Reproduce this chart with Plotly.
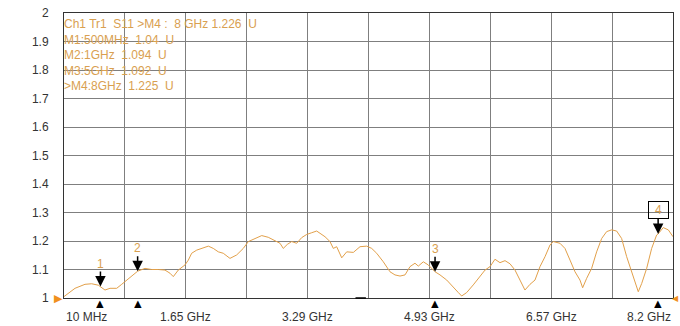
import plotly.graph_objects as go

# Trace data (frequency in MHz, SWR-like value in U)
freq_mhz = [10, 158, 292, 382, 471, 500, 561, 629, 719, 786, 853, 942, 1000, 1099, 1189,
            1278, 1368, 1435, 1480, 1547, 1637, 1682, 1727, 1795, 1862, 1951, 2018, 2085,
            2152, 2242, 2332, 2421, 2489, 2579, 2669, 2757, 2848, 2915, 2959, 3013, 3072,
            3139, 3207, 3274, 3341, 3408, 3453, 3520, 3587, 3632, 3677, 3745, 3812, 3901,
            3991, 4081, 4148, 4215, 4304, 4394, 4461, 4529, 4596, 4663, 4730, 4775, 4842,
            4909, 5000, 5067, 5157, 5246, 5313, 5358, 5425, 5514, 5604, 5672, 5739, 5806,
            5873, 5941, 6008, 6075, 6142, 6209, 6277, 6344, 6411, 6479, 6546, 6590, 6680,
            6747, 6815, 6882, 6949, 6985, 7039, 7106, 7173, 7241, 7308, 7375, 7442, 7509,
            7577, 7644, 7702, 7733, 7779, 7846, 7913, 7980, 8000, 8024, 8069, 8137, 8200]
values = [1.005, 1.034, 1.048, 1.050, 1.045, 1.040, 1.028, 1.034, 1.034, 1.048, 1.063, 1.081,
          1.094, 1.104, 1.100, 1.100, 1.098, 1.087, 1.075, 1.098, 1.116, 1.133, 1.157, 1.168,
          1.174, 1.182, 1.174, 1.162, 1.157, 1.139, 1.151, 1.174, 1.198, 1.209, 1.219, 1.213,
          1.200, 1.192, 1.174, 1.188, 1.198, 1.192, 1.212, 1.223, 1.229, 1.235, 1.227, 1.215,
          1.198, 1.174, 1.180, 1.141, 1.162, 1.160, 1.180, 1.182, 1.174, 1.157, 1.127, 1.092,
          1.081, 1.077, 1.081, 1.110, 1.122, 1.112, 1.127, 1.116, 1.092, 1.081, 1.063, 1.040,
          1.019, 1.007, 1.019, 1.046, 1.075, 1.098, 1.110, 1.136, 1.124, 1.131, 1.120, 1.098,
          1.063, 1.028, 1.048, 1.063, 1.110, 1.145, 1.186, 1.198, 1.192, 1.174, 1.133, 1.092,
          1.063, 1.036, 1.069, 1.104, 1.162, 1.209, 1.233, 1.239, 1.235, 1.209, 1.145, 1.092,
          1.040, 1.022, 1.051, 1.104, 1.174, 1.221, 1.225, 1.233, 1.247, 1.239, 1.215]

# Markers
marker_labels = ["1", "2", "3", "4"]
marker_freq = [500, 1000, 5000, 8000]
marker_vals = [1.04, 1.094, 1.092, 1.225]
active_marker = "4"

# Axis ticks
x_tick_vals = [10, 1648, 3286, 4924, 6562, 8200]
x_tick_text = ["10 MHz", "1.65 GHz", "3.29 GHz", "4.93 GHz", "6.57 GHz", "8.2 GHz"]
x_grid_vals = [10, 829, 1648, 2467, 3286, 4105, 4924, 5743, 6562, 7381, 8200]
y_tick_vals = [1, 1.1, 1.2, 1.3, 1.4, 1.5, 1.6, 1.7, 1.8, 1.9, 2]
y_tick_text = ["1", "1.1", "1.2", "1.3", "1.4", "1.5", "1.6", "1.7", "1.8", "1.9", "2"]

info_lines = ["Ch1 Tr1  S11 >M4 :  8 GHz 1.226  U",
              "M1:500MHz  1.04  U",
              "M2:1GHz  1.094  U",
              "M3:5GHz  1.092  U",
              ">M4:8GHz  1.225  U"]

TRACE = "#E2A04A"
TXT = "#D9A050"
FONT = "Liberation Sans, Arial, sans-serif"

fig = go.Figure()
fig.add_trace(go.Scatter(x=freq_mhz, y=values, mode="lines",
                         line=dict(color=TRACE, width=1), hoverinfo="skip",
                         showlegend=False))

ann = []
# marker arrows + labels
for lab, fx, fv in zip(marker_labels, marker_freq, marker_vals):
    active = lab == active_marker
    ann.append(dict(x=fx, y=fv, xref="x", yref="y", text=lab, showarrow=True,
                    arrowhead=2, arrowsize=1.4, arrowwidth=1.5, arrowcolor="black",
                    ax=0, ay=-24 if active else -23,
                    font=dict(family=FONT, size=12, color=TXT),
                    bordercolor="black" if active else "rgba(0,0,0,0)",
                    borderwidth=1 if active else 0, borderpad=1,
                    width=17 if active else None, bgcolor="rgba(255,255,255,0)"))
    # bottom marker triangles
    ann.append(dict(x=fx, y=1.0, xref="x", yref="y", text="▲", showarrow=False,
                    yanchor="top", yshift=2, height=10,
                    font=dict(family="DejaVu Sans", size=10, color="black")))

# x tick labels
for i, (tv, tt) in enumerate(zip(x_tick_vals, x_tick_text)):
    anchor = "left" if i == 0 else ("right" if i == len(x_tick_vals) - 1 else "center")
    ann.append(dict(x=tv, y=0, xref="x", yref="paper", text=tt, showarrow=False,
                    xanchor=anchor, yanchor="top", yshift=-10,
                    font=dict(family=FONT, size=12, color="#333333")))

# info block
for i, line in enumerate(info_lines):
    ann.append(dict(x=0, y=1, xref="paper", yref="paper", text=line, showarrow=False,
                    xanchor="left", yanchor="top", yshift=-2 - 15.5 * i, xshift=-2,
                    font=dict(family=FONT, size=12, color=TXT)))

# reference level triangles
ann.append(dict(x=0, y=1.0, xref="paper", yref="y", text="▶", showarrow=False,
                xanchor="right", xshift=1, font=dict(family="DejaVu Sans", size=11,
                                                     color="#F0901E")))
ann.append(dict(x=1, y=1.0, xref="paper", yref="y", text="◀", showarrow=False,
                xanchor="left", xshift=-2, borderpad=0,
                font=dict(family="DejaVu Sans", size=8, color="#F0901E")))

fig.update_layout(
    width=680, height=326,
    margin=dict(l=64, r=7, t=13, b=28),
    paper_bgcolor="white", plot_bgcolor="white",
    annotations=ann,
    shapes=[dict(type="line", xref="x", yref="paper", x0=3930, x1=4070, y0=0, y1=0,
                 line=dict(color="black", width=1.5))],
    xaxis=dict(range=[10, 8200], tickvals=x_grid_vals, showticklabels=False,
               showgrid=True, gridcolor="#7f7f7f", gridwidth=1, zeroline=False,
               showline=True, linecolor="#333333", linewidth=1, mirror=True, ticks=""),
    yaxis=dict(range=[1, 2], tickvals=y_tick_vals, ticktext=y_tick_text,
               showgrid=True, gridcolor="#7f7f7f", gridwidth=1, zeroline=False,
               showline=True, linecolor="#333333", linewidth=1, mirror=True, ticks="",
               ticklabelstandoff=12,
               tickfont=dict(family=FONT, size=12, color="#333333")),
)

# remove the default page margin so the 680x326 figure fills the window exactly
fig.write_html("out.html", config={"displayModeBar": False},
               post_script="document.body.style.margin='0';document.body.style.overflow='hidden';")
